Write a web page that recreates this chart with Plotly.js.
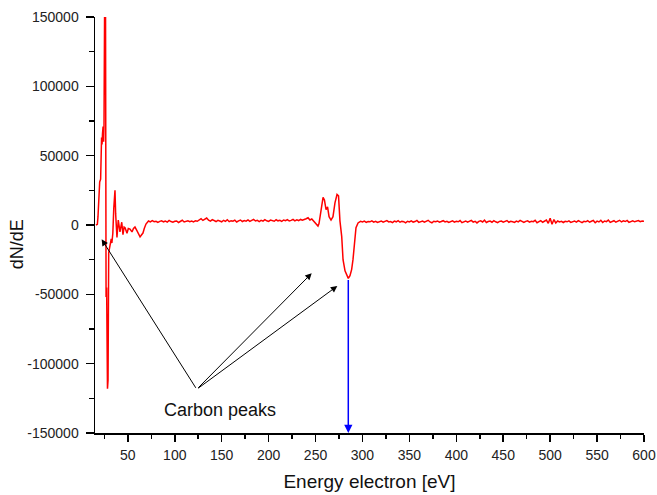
<!DOCTYPE html>
<html>
<head>
<meta charset="utf-8">
<script src="https://cdn.plot.ly/plotly-3.0.1.min.js"></script>
<style>html,body{margin:0;padding:0;background:#fff;}</style>
</head>
<body>
<div id="chart" style="width:657px;height:495px;"></div>
<script>
// Energy (eV) and dN/dE values
const energy = [
  16,17.5,18.2,19,20,21,22,22.5,23,23.6,24.2,24.6,25.3,26.2,26.8,27.4,28.3,28.9,29.6,31,32.3,33,34,35,36.3,37,38.4,39.8,41,41.6,43.5,44.8,46,47,49.1,50.5,52.3,54.4,56,57.6,59.8,61,63,64.5,66.1,67.5,69.3,
  72,74,76,78,80,82,84,86,88,90,92,94,96,98,100,102,104,106,108,110,112,114,116,118,120,122,124,126,128,130,132,134,136,138,140,142,144,146,148,150,152,154,156,158,160,162,164,166,168,170,172,174,176,178,180,182,184,186,188,190,192,194,196,198,200,202,204,206,208,210,212,214,216,218,220,222,224,226,228,230,232,234,236,238,240,242,244,246,
  248.4,250.5,252.6,253.7,255.8,258,259.5,261.2,262.8,264.4,266.5,268.6,270.7,272.9,274.5,276,277.9,279.3,281.4,283.2,284.9,286.7,288.5,289.9,291,292,293.1,295.3,
  298,300,302,304,306,308,310,312,314,316,318,320,322,324,326,328,330,332,334,336,338,340,342,344,346,348,350,352,354,356,358,360,362,364,366,368,370,372,374,376,378,380,382,384,386,388,390,392,394,396,398,400,402,404,406,408,410,412,414,416,418,420,422,424,426,428,430,432,434,436,438,440,442,444,446,448,450,452,454,456,458,460,462,464,466,468,470,472,474,476,478,480,482,484,486,488,490,492,494,496,498,500,502,504,506,508,510,512,514,516,518,520,522,524,526,528,530,532,534,536,538,540,542,544,546,548,550,552,554,556,558,560,562,564,566,568,570,572,574,576,578,580,582,584,586,588,590,592,594,596,598,600
];
const dNdE = [
  0,500,6000,14000,31000,33000,63000,58000,66000,71000,60000,72000,165000,160000,-52000,-45000,-118000,-112000,-20000,-16000,-10000,-13000,-6000,12000,25000,8000,-9000,3600,-2000,-5000,2000,-7000,-1500,-2000,-6000,-2500,-3000,-5000,-2500,-1500,-4300,-6000,-8600,-7200,-5800,-2500,700,
  2900,2200,3100,2400,2700,1900,2600,3000,2300,2800,2100,3300,2500,2000,2700,2900,1800,2600,3400,2200,2600,3000,2400,2800,2200,3100,2700,3600,4600,3300,4200,5000,3500,2800,3900,3000,2500,3300,2900,2300,3400,2600,3800,2400,3100,2700,3500,2200,3000,3600,2500,3200,2800,3700,2600,3100,4000,2900,3400,2500,3300,2800,3900,3000,2600,3500,3100,2700,3800,3000,3400,2600,3600,3100,3900,2900,3300,4100,3000,3700,3200,4000,3400,3800,4500,5200,3600,4300,
  2500,500,-800,1000,12000,20000,18000,11000,13000,6000,3600,6000,16000,22000,21000,3000,-8400,-25000,-33000,-36000,-38500,-36500,-32000,-25000,-18000,-9000,-2000,1500,
  2600,2200,2800,1900,2500,2300,3000,2100,2700,1800,2400,2900,2000,2600,3200,2200,2500,1700,2800,2300,3100,2000,2600,2400,1500,2700,2200,3000,2100,2500,3300,1900,2400,2800,2000,2600,3400,2200,1600,2700,2300,2900,2000,2500,3100,2200,2700,1800,2400,3000,2100,2600,2300,3200,1700,2500,2900,2000,2400,3300,2100,2700,1500,2600,3000,2200,3500,1800,2500,2800,2000,3100,2300,1700,2600,2900,2100,2400,3200,2000,2700,2300,1900,2800,2200,3300,2500,1800,2600,3000,2100,2700,2400,3400,1600,2500,3100,2000,2800,3600,1200,4800,600,3900,1500,2900,2200,2600,1800,2700,2300,3000,1900,2500,2800,2100,3200,2400,1700,2600,2300,3100,2000,2700,3300,1600,2800,2200,3400,1800,2900,2400,3600,1900,2700,3100,2000,2800,3400,2200,3000,2500,3300,1900,2600,3000,2300,2800,3200,2400,2900,2600
];
const xTicks = [50,100,150,200,250,300,350,400,450,500,550,600];
const xTickText = ["50","100","150","200","250","300","350","400","450","500","550","600"];
const yTicks = [-150000,-100000,-50000,0,50000,100000,150000];
const yTickText = ["-150000","-100000","-50000","0","50000","100000","150000"];
const labelText = "Carbon peaks";
const labelPos = [148, -133400];
const arrowTail = [123.4, -118500];
const arrowTips = [[22.1, -10300], [245.9, -34800], [273.2, -44000]];
const blueArrow = {from: [284.9, -38500], to: [284.9, -150000]};

const FONT = "Liberation Sans, Arial, sans-serif";

const trace = {
  x: energy, y: dNdE, type: 'scatter', mode: 'lines',
  line: {color: '#ff0000', width: 1.5},
  hoverinfo: 'skip'
};

const annotations = arrowTips.map(t => ({
  x: t[0], y: t[1], xref: 'x', yref: 'y',
  ax: arrowTail[0], ay: arrowTail[1], axref: 'x', ayref: 'y',
  text: '', showarrow: true, arrowhead: 2, arrowsize: 1.3, arrowwidth: 1,
  arrowcolor: '#000000', standoff: 0, startstandoff: 0
}));
annotations.push({
  x: blueArrow.to[0], y: blueArrow.to[1], xref: 'x', yref: 'y',
  ax: blueArrow.from[0], ay: blueArrow.from[1], axref: 'x', ayref: 'y',
  text: '', showarrow: true, arrowhead: 2, arrowsize: 1.1, arrowwidth: 1.5,
  arrowcolor: '#0000ff', standoff: 0, startstandoff: 0
});
annotations.push({
  x: labelPos[0], y: labelPos[1], xref: 'x', yref: 'y',
  text: labelText, showarrow: false, xanchor: 'center', yanchor: 'middle',
  font: {family: FONT, size: 18, color: '#111'}
});
annotations.push({
  x: -0.142, y: 0.454, xref: 'paper', yref: 'paper',
  text: 'dN/dE', showarrow: false, textangle: -90, xanchor: 'center', yanchor: 'middle',
  font: {family: FONT, size: 18, color: '#111'}
});

const layout = {
  width: 657, height: 495,
  margin: {l: 95, r: 13, t: 17, b: 62, pad: 0},
  paper_bgcolor: '#ffffff', plot_bgcolor: '#ffffff',
  showlegend: false,
  font: {family: FONT, color: '#222'},
  xaxis: {
    range: [15, 600], tickvals: xTicks, ticktext: xTickText,
    ticks: 'outside', ticklen: 7, tickwidth: 1.5, tickcolor: '#000',
    minor: {tickvals: [25,75,125,175,225,275,325,375,425,475,525,575], ticks: 'outside', ticklen: 4, tickwidth: 1.5, tickcolor: '#000', showgrid: false},
    showline: true, linecolor: '#000', linewidth: 1.5, mirror: false,
    showgrid: false, zeroline: false,
    tickfont: {family: FONT, size: 14, color: '#222'},
    ticklabelstandoff: 2,
    title: {text: 'Energy electron [eV]', font: {family: FONT, size: 19, color: '#111'}, standoff: 12}
  },
  yaxis: {
    range: [-150000, 150000], tickvals: yTicks, ticktext: yTickText,
    ticks: 'outside', ticklen: 8, tickwidth: 1.5, tickcolor: '#000',
    minor: {tickvals: [-125000,-75000,-25000,25000,75000,125000], ticks: 'outside', ticklen: 5, tickwidth: 1.5, tickcolor: '#000', showgrid: false},
    showline: true, linecolor: '#000', linewidth: 1.5, mirror: false,
    showgrid: false, zeroline: false,
    tickfont: {family: FONT, size: 14, color: '#222'},
    ticklabelstandoff: 4
  },
  annotations: annotations
};

Plotly.newPlot('chart', [trace], layout, {staticPlot: true, displayModeBar: false});
</script>
</body>
</html>
